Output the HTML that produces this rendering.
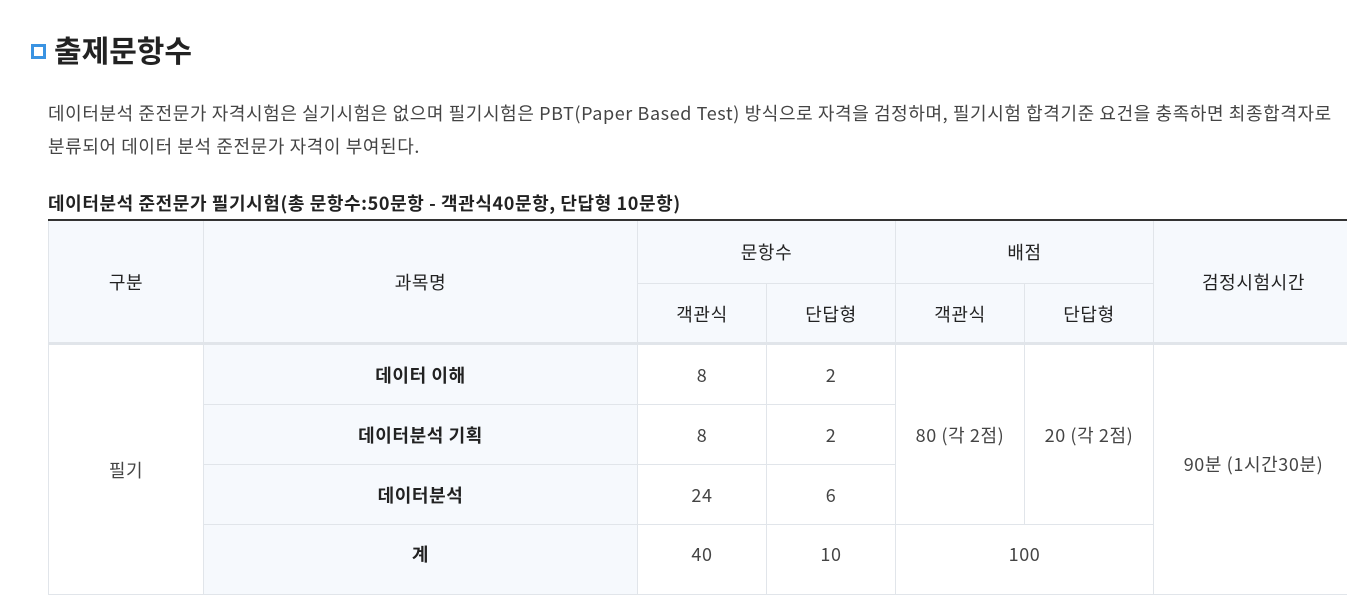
<!DOCTYPE html>
<html><head><meta charset="utf-8"><style>
body{margin:0;width:1347px;height:584px;overflow:hidden;background:#fff;font-family:"Noto Sans CJK KR","Liberation Sans",sans-serif;color:#333;position:relative;letter-spacing:0.6px}
.c{position:absolute;display:flex;align-items:center;justify-content:center;box-sizing:border-box;border-right:1px solid #e1e5ea;border-bottom:1px solid #e1e5ea;font-size:18px;color:#444}
.h{background:#f6f9fd;color:#222}
.s{background:#f6f9fd;color:#222;font-weight:bold}
</style></head><body>
<div style="position:absolute;left:31px;top:44px;width:15px;height:15px;background:#2f8de0;box-sizing:border-box;border:3px solid #3a93e2;box-shadow:inset 0 0 0 1px #1f7fd6"><div style="width:9px;height:9px;background:#fff"></div></div>
<div style="position:absolute;left:54px;top:27px;font-size:30px;font-weight:bold;color:#222;letter-spacing:0">출제문항수</div>
<div style="position:absolute;left:48px;top:97px;width:1300px;font-size:18px;line-height:33px;color:#444;white-space:nowrap">데이터분석 준전문가 자격시험은 실기시험은 없으며 필기시험은 PBT(Paper Based Test) 방식으로 자격을 검정하며, 필기시험 합격기준 요건을 충족하면 최종합격자로<br>분류되어 데이터 분석 준전문가 자격이 부여된다.</div>
<div style="position:absolute;left:48px;top:190px;font-size:18px;font-weight:bold;color:#222">데이터분석 준전문가 필기시험(총 문항수:50문항 - 객관식40문항, 단답형 10문항)</div>
<div style="position:absolute;left:48px;top:219px;width:1299px;height:2px;background:#333"></div>
<div>
<div class="c h" style="left:48px;top:221px;width:156px;height:123px;border-left:1px solid #e1e5ea">구분</div>
<div class="c h" style="left:204px;top:221px;width:434px;height:123px">과목명</div>
<div class="c h" style="left:638px;top:221px;width:258px;height:63px">문항수</div>
<div class="c h" style="left:896px;top:221px;width:258px;height:63px">배점</div>
<div class="c h" style="left:1154px;top:221px;width:200px;height:123px">검정시험시간</div>
<div class="c h" style="left:638px;top:284px;width:129px;height:60px">객관식</div>
<div class="c h" style="left:767px;top:284px;width:129px;height:60px">단답형</div>
<div class="c h" style="left:896px;top:284px;width:129px;height:60px">객관식</div>
<div class="c h" style="left:1025px;top:284px;width:129px;height:60px">단답형</div>
<div style="position:absolute;left:48px;top:342px;width:1299px;height:3px;background:#e1e5ea"></div>
<div class="c" style="left:48px;top:345px;width:156px;height:250px;border-left:1px solid #e1e5ea">필기</div>
<div class="c s" style="left:204px;top:345px;width:434px;height:60px">데이터 이해</div>
<div class="c s" style="left:204px;top:405px;width:434px;height:60px">데이터분석 기획</div>
<div class="c s" style="left:204px;top:465px;width:434px;height:60px">데이터분석</div>
<div class="c s" style="left:204px;top:525px;width:434px;height:70px;align-items:flex-start;padding-top:16px">계</div>
<div class="c" style="left:638px;top:345px;width:129px;height:60px">8</div>
<div class="c" style="left:767px;top:345px;width:129px;height:60px">2</div>
<div class="c" style="left:638px;top:405px;width:129px;height:60px">8</div>
<div class="c" style="left:767px;top:405px;width:129px;height:60px">2</div>
<div class="c" style="left:638px;top:465px;width:129px;height:60px">24</div>
<div class="c" style="left:767px;top:465px;width:129px;height:60px">6</div>
<div class="c" style="left:638px;top:525px;width:129px;height:70px;align-items:flex-start;padding-top:16px">40</div>
<div class="c" style="left:767px;top:525px;width:129px;height:70px;align-items:flex-start;padding-top:16px">10</div>
<div class="c" style="left:896px;top:345px;width:129px;height:180px">80 (각 2점)</div>
<div class="c" style="left:1025px;top:345px;width:129px;height:180px">20 (각 2점)</div>
<div class="c" style="left:896px;top:525px;width:258px;height:70px;align-items:flex-start;padding-top:16px">100</div>
<div class="c" style="left:1154px;top:345px;width:200px;height:250px;align-items:flex-start;padding-top:106px">90분 (1시간30분)</div>
</div>
</body></html>
